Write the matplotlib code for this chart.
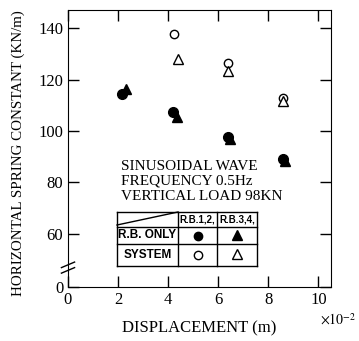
import matplotlib
matplotlib.use('Agg')
import matplotlib.pyplot as plt
from matplotlib.lines import Line2D

plt.rcParams['font.family'] = ['Liberation Serif', 'DejaVu Serif']
plt.rcParams['mathtext.fontset'] = 'stix'
plt.rcParams['font.size'] = 12

# data (displacement x1e-2 m, spring constant KN/m)
rb12_only_x = [2.15, 4.2, 6.4, 8.6]
rb12_only_y = [114.5, 107.3, 97.8, 89.0]
rb34_only_x = [2.3, 4.35, 6.45, 8.65]
rb34_only_y = [116.5, 105.5, 97.0, 88.5]
rb12_sys_x = [4.25, 6.4, 8.6]
rb12_sys_y = [137.5, 126.3, 113.0]
rb34_sys_x = [4.4, 6.4, 8.6]
rb34_sys_y = [128.0, 123.3, 111.8]

y_bottom = 39.4  # shown as "0" (broken axis)
yticks = [y_bottom, 60, 80, 100, 120, 140]
yticklabels = ['0', '60', '80', '100', '120', '140']
xticks = [0, 2, 4, 6, 8, 10]

W, H = 359, 341
fig = plt.figure(figsize=(W / 100, H / 100), dpi=100)
ax = fig.add_axes([68 / W, 1 - 287 / H, 263 / W, 277 / H])

ax.plot(rb12_only_x, rb12_only_y, 'o', color='black', ms=7)
ax.plot(rb34_only_x, rb34_only_y, '^', color='black', ms=7.5)
ax.plot(rb12_sys_x, rb12_sys_y, 'o', mfc='white', mec='black', ms=6, mew=1)
ax.plot(rb34_sys_x, rb34_sys_y, '^', mfc='white', mec='black', ms=7.5, mew=1)

ax.set_xlim(0, 10.5)
ax.set_ylim(y_bottom, 147)
ax.set_xticks(xticks)
ax.set_yticks(yticks)
ax.set_yticklabels(yticklabels)
ax.tick_params(direction='in', length=8, width=1, top=True, right=True, labelsize=12)

ax.set_xlabel('DISPLACEMENT (m)', fontsize=12, labelpad=9)

def fp(x, y):
    return x / W, 1 - y / H

fig.text(*fp(18, 153), 'HORIZONTAL SPRING CONSTANT (KN/m)', fontsize=10.8,
         rotation=90, ha='center', va='center')

# axis break marks
for dy in (-0.012, 0.008):
    ax.plot([-0.025, 0.025], [0.062 + dy, 0.082 + dy], transform=ax.transAxes,
            color='black', lw=1, clip_on=False)

fig.text(*fp(320, 320), r'$\times10^{-2}$', fontsize=10, ha='left', va='center')

# description text
for txt, yy in [('SINUSOIDAL WAVE', 166), ('FREQUENCY 0.5Hz', 181), ('VERTICAL LOAD 98KN', 196)]:
    fig.text(*fp(121, yy), txt, fontsize=11, ha='left', va='center')

# legend table
xs = [117, 178, 217, 257]
ys = [212, 227, 244, 266]
def line(p, q, **kw):
    a, b = fp(*p)
    c, d = fp(*q)
    fig.add_artist(Line2D([a, c], [b, d], color='black', lw=1, **kw))

for yy in ys:
    line((xs[0], yy), (xs[-1], yy))
for xx in xs:
    line((xx, ys[0]), (xx, ys[-1]))
line((xs[0], ys[1] - 2), (xs[1], ys[0]))

tkw = dict(family=['Liberation Sans', 'DejaVu Sans'], weight='bold', ha='center', va='center')
fig.text(*fp(197.5, 219.5), 'R.B.1,2,', fontsize=7, **tkw)
fig.text(*fp(237, 219.5), 'R.B.3,4,', fontsize=7, **tkw)
fig.text(*fp(147.5, 235.5), 'R.B. ONLY', fontsize=8.5, **tkw)
fig.text(*fp(147.5, 255), 'SYSTEM', fontsize=8.5, **tkw)

def mark(x, y, m, filled, ms):
    a, b = fp(x, y)
    fig.add_artist(Line2D([a], [b], marker=m, ms=ms, ls='none',
                          mfc='black' if filled else 'white', mec='black', mew=1))

mark(197.5, 236, 'o', True, 6)
mark(237, 235, '^', True, 7)
mark(197.5, 255, 'o', False, 6)
mark(237, 254, '^', False, 7)

fig.savefig('out.png', dpi=100)
